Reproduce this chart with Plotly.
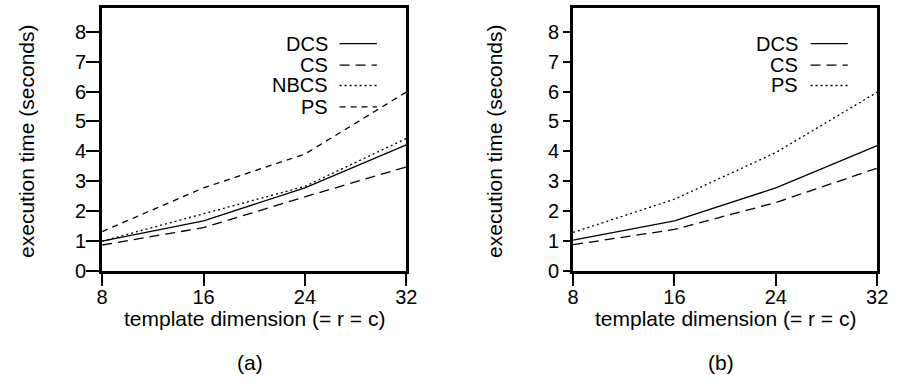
import plotly.graph_objects as go

W, H = 901, 385

# ---- data ----
dims = [8, 16, 24, 32]

a_series = ["DCS", "CS", "NBCS", "PS"]
a_dcs = [1.00, 1.68, 2.78, 4.22]
a_cs = [0.87, 1.45, 2.48, 3.48]
a_nbcs = [1.00, 1.91, 2.83, 4.43]
a_ps = [1.32, 2.78, 3.91, 5.98]

b_series = ["DCS", "CS", "PS"]
b_dcs = [1.03, 1.68, 2.78, 4.19]
b_cs = [0.88, 1.39, 2.29, 3.44]
b_ps = [1.29, 2.40, 3.96, 5.98]

y_ticks = [0, 1, 2, 3, 4, 5, 6, 7, 8]
x_ticks = [8, 16, 24, 32]

x_title = "template dimension (= r = c)"
y_title = "execution time (seconds)"
panel_labels = ["(a)", "(b)"]

FONT = "Liberation Sans, Arial, sans-serif"
SOLID = "solid"
LONGDASH = "10px,6px"
SHORTDASH = "6px,5px"
DOT = "2px,3px"

styles_a = {"DCS": SOLID, "CS": LONGDASH, "NBCS": DOT, "PS": SHORTDASH}
styles_b = {"DCS": SOLID, "CS": LONGDASH, "PS": DOT}
vals_a = {"DCS": a_dcs, "CS": a_cs, "NBCS": a_nbcs, "PS": a_ps}
vals_b = {"DCS": b_dcs, "CS": b_cs, "PS": b_ps}

def px(x):
    return x / W

def py(y):
    return 1 - y / H

fig = go.Figure()

for name in a_series:
    fig.add_trace(go.Scatter(x=dims, y=vals_a[name], mode="lines", name=name,
                             line=dict(color="black", width=1.3, dash=styles_a[name]),
                             xaxis="x", yaxis="y", showlegend=False))
for name in b_series:
    fig.add_trace(go.Scatter(x=dims, y=vals_b[name], mode="lines", name=name,
                             line=dict(color="black", width=1.3, dash=styles_b[name]),
                             xaxis="x2", yaxis="y2", showlegend=False))

# panel geometry (pixels)
panels = [
    dict(l=98, r=408, ticklen_y=13, ystand=-4, ytitle_x=21),
    dict(l=578, r=888, ticklen_y=7, ystand=0, ytitle_x=498),
]
top, bottom = 8, 279

axis_common = dict(showline=True, linewidth=3, linecolor="black", mirror=True,
                   showgrid=False, zeroline=False, ticks="outside",
                   tickcolor="black", tickwidth=1.5,
                   tickfont=dict(family=FONT, size=20, color="black"))

layout = dict(width=W, height=H, margin=dict(l=0, r=0, t=0, b=0),
              plot_bgcolor="white", paper_bgcolor="white",
              showlegend=False, font=dict(family=FONT, color="black"))

for i, p in enumerate(panels):
    sx = "" if i == 0 else "2"
    layout["xaxis" + sx] = dict(axis_common, domain=[px(p["l"]), px(p["r"])],
                               range=[8, 32], tickvals=x_ticks, ticklen=12,
                               ticklabelstandoff=-6, anchor="y" + sx)
    layout["yaxis" + sx] = dict(axis_common, domain=[py(bottom), py(top)],
                               range=[0, 8.8], tickvals=y_ticks,
                               ticklen=p["ticklen_y"], ticklabelstandoff=p["ystand"],
                               anchor="x" + sx)

fig.update_layout(**layout)

ann = []
shapes = []
for i, p in enumerate(panels):
    cx = (p["l"] + p["r"]) / 2
    ann.append(dict(text=x_title, x=px(cx), y=py(328), xref="paper", yref="paper",
                    xanchor="center", yanchor="middle", showarrow=False,
                    font=dict(family=FONT, size=21, color="black")))
    ann.append(dict(text=y_title, x=px(p["ytitle_x"]), y=py((top + bottom) / 2 + 2),
                    xref="paper", yref="paper", textangle=-90,
                    xanchor="center", yanchor="middle", showarrow=False,
                    font=dict(family=FONT, size=21, color="black")))
    ann.append(dict(text=panel_labels[i], x=px(cx - 4), y=py(373), xref="paper", yref="paper",
                    xanchor="center", yanchor="middle", showarrow=False,
                    font=dict(family=FONT, size=21, color="black")))

# in-plot legends (text on the left, line sample on the right)
legend_specs = [
    (a_series, styles_a, 329, 340, 378),
    (b_series, styles_b, 808, 820, 858),
]
row_y = [45, 67, 88, 110]
for names, styles, tx, lx0, lx1 in legend_specs:
    for k, name in enumerate(names):
        ann.append(dict(text=name, x=px(tx), y=py(row_y[k]), xref="paper", yref="paper",
                        xanchor="right", yanchor="middle", showarrow=False,
                        borderpad=0,
                        font=dict(family=FONT, size=20, color="black")))
        shapes.append(dict(type="line", xref="paper", yref="paper",
                           x0=px(lx0), x1=px(lx1), y0=py(row_y[k]), y1=py(row_y[k]),
                           line=dict(color="black", width=1.3, dash=styles[name])))

fig.update_layout(annotations=ann, shapes=shapes)
fig.write_html("out.html")
